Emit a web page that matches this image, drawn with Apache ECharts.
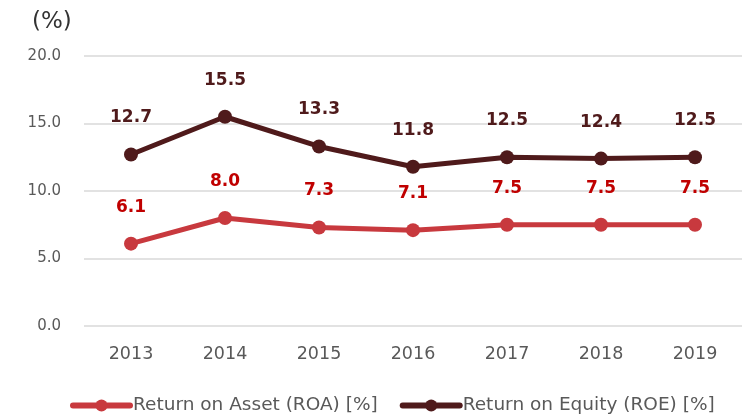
<!DOCTYPE html>
<html><head><meta charset="utf-8">
<script src="https://cdn.jsdelivr.net/npm/echarts@6/dist/echarts.min.js"></script>
<style>html,body{margin:0;padding:0;background:#fff}#c{width:742px;height:414px}</style>
</head><body><div id="c"></div>
<script>
const categories = ['2013','2014','2015','2016','2017','2018','2019'];
const roa = [6.1, 8.0, 7.3, 7.1, 7.5, 7.5, 7.5];
const roe = [12.7, 15.5, 13.3, 11.8, 12.5, 12.4, 12.5];
const seriesNames = ['Return on Asset (ROA) [%]', 'Return on Equity (ROE) [%]'];
const font = '"DejaVu Sans", Verdana, sans-serif';
const chart = echarts.init(document.getElementById('c'));
chart.setOption({
  animation: false,
  textStyle: {fontFamily: font},
  title: {text: '(%)', left: 27, top: 6, textStyle: {fontFamily: font, fontSize: 23, fontWeight: 'normal', color: '#333'}},
  grid: {left: 84, right: 0, top: 56, bottom: 88},
  legend: {
    top: 396, left: 70, padding: 0, itemGap: 22, itemWidth: 57, itemHeight: 15,
    lineStyle: {width: 6, cap: 'round'},
    textStyle: {fontFamily: font, fontSize: 18.5, color: '#595959', padding: [0, 0, 0, -2]},
    data: seriesNames
  },
  xAxis: {
    type: 'category', data: categories, boundaryGap: true,
    axisLine: {show: false}, axisTick: {show: false},
    axisLabel: {fontFamily: font, fontSize: 17.5, color: '#595959', margin: 19}
  },
  yAxis: {
    type: 'value', min: 0, max: 20, interval: 5,
    axisLine: {show: false}, axisTick: {show: false},
    splitLine: {lineStyle: {color: '#d9d9d9', width: 1.5}},
    axisLabel: {fontFamily: font, fontSize: 15, color: '#595959', margin: 23, formatter: v => v.toFixed(1)}
  },
  series: [
    {
      name: seriesNames[0], type: 'line', data: roa,
      symbol: 'circle', symbolSize: 14,
      lineStyle: {color: '#C8393E', width: 5},
      itemStyle: {color: '#C8393E'},
      label: {show: true, position: 'top', distance: 21, fontFamily: font, fontSize: 17, fontWeight: 'bold', color: '#C00000', formatter: p => p.value.toFixed(1)}
    },
    {
      name: seriesNames[1], type: 'line', data: roe,
      symbol: 'circle', symbolSize: 14,
      lineStyle: {color: '#4F1A1B', width: 5},
      itemStyle: {color: '#4F1A1B'},
      label: {show: true, position: 'top', distance: 21, fontFamily: font, fontSize: 17, fontWeight: 'bold', color: '#4F1A1B', formatter: p => p.value.toFixed(1)}
    }
  ]
});
</script></body></html>
